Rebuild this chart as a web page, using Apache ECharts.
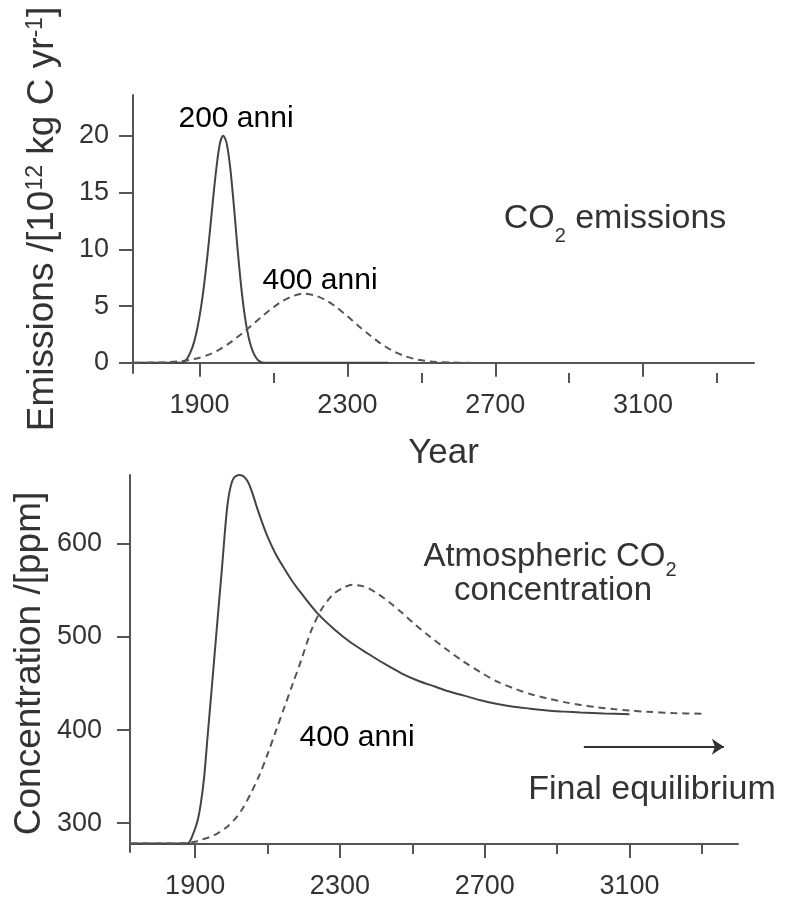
<!DOCTYPE html>
<html><head><meta charset="utf-8">
<script src="https://cdn.jsdelivr.net/npm/echarts@6/dist/echarts.min.js"></script>
<style>html,body{margin:0;padding:0;background:#fff}#c{width:791px;height:899px}</style>
</head><body><div id="c"></div>
<script>
// ---------- data ----------
const xLabelTicks = [1900, 2300, 2700, 3100];
const xMinorTicks = [2100, 2500, 2900, 3300];
const emisTicks = [0, 5, 10, 15, 20];
const concTicks = [300, 400, 500, 600];

// CO2 emissions, 200-year pulse (solid)
const emisYears200 = [1723,1840,1855,1865,1875,1885,1895,1905,1915,1925,1935,1945,1955,1964,1973,1983,1993,2003,2013,2023,2033,2043,2053,2063,2075,2410];
const emis200 =      [0,   0,   0.05,0.3, 0.9, 1.8, 3.2, 5.1, 7.6, 10.6,13.9,17.0,19.3,20,  19.4,17.2,13.8,10.0,6.6, 4.0, 2.2, 1.1, 0.45,0.12,0,   0];

// CO2 emissions, 400-year pulse (dashed)
const emisYears400 = [1723,1780,1820,1850,1875,1900,1925,1950,1975,2000,2025,2050,2075,2100,2125,2150,2180,2210,2240,2270,2300,2330,2360,2390,2420,2450,2480,2510,2540,2580,2630];
const emis400 =      [0,   0.02,0.06,0.14,0.27,0.45,0.72,1.10,1.60,2.20,2.85,3.55,4.25,4.90,5.45,5.85,6.10,5.95,5.55,4.90,4.10,3.25,2.45,1.70,1.10,0.65,0.35,0.17,0.07,0.02,0];

// Atmospheric CO2 concentration, 200-year case (solid)
const concYears200 = [1723,1800,1860,1880,1895,1907,1916,1925,1935,1945,1955,1965,1975,1982,1988,1994,2002,2010,2022,2032,2040,2048,2056,2064,2073,2087,2101,2124,2147,2170,2193,2239,2285,2330,2378,2424,2470,2516,2560,2597,2643,2689,2735,2780,2826,2873,2920,2965,3030,3100];
const conc200 =      [278, 278, 278, 278.5,289, 303, 322, 350, 396, 441, 487, 533, 578, 612, 637, 654, 667, 672, 674, 673, 670, 665, 657, 647.5,636.5,621, 607, 588, 573, 559, 547, 525, 508, 494, 482, 471, 461, 453, 447, 442, 437, 432, 428, 425, 423, 421, 419.8,418.8,417.8,417];

// Atmospheric CO2 concentration, 400-year case (dashed)
const concYears400 = [1723,1800,1870,1900,1916,1940,1962,1985,2008,2030,2054,2078,2101,2124,2147,2170,2193,2221,2248,2270,2285,2310,2336,2358,2378,2400,2424,2447,2470,2506,2550,2597,2640,2689,2735,2782,2828,2873,2920,2965,3010,3056,3100,3148,3220,3303];
const conc400 =      [278, 278, 278.5,280, 282, 285, 289, 295, 303.5,315, 332, 352, 375, 400, 425, 450, 475, 507, 529, 541, 547, 553, 556, 555, 552.5,547.5,541, 534, 526.5,514, 500, 486, 474, 462, 452, 444.5,438.5,434, 430, 427, 424.5,422.5,421, 419.7,418.3,417.5];

// "Final equilibrium" arrow (data coordinates)
const arrowFrom = [2974, 382];
const arrowTo = [3361, 382];

// ---------- chart ----------
const FONT = '"Liberation Sans", Arial, Helvetica, sans-serif';
const AX = '#555';
const TXT = '#333';
const zip = (xs, ys) => xs.map((x, i) => [x, ys[i]]);
const plain = v => String(v);

function mainX(gi, name, onZero, offset, margin) {
  return {
    type: 'value', gridIndex: gi, min: 1720, max: 3400, position: 'bottom', offset: offset,
    axisLine: { show: true, onZero: onZero, lineStyle: { color: AX, width: 2 } },
    axisTick: { show: true, customValues: xLabelTicks, length: 14, lineStyle: { color: AX, width: 2 } },
    axisLabel: { show: true, customValues: xLabelTicks, formatter: plain, fontSize: 27, color: TXT, margin: margin, fontFamily: FONT },
    splitLine: { show: false },
    name: name, nameLocation: 'middle', nameGap: 63, nameMoveOverlap: false,
    nameTextStyle: { fontSize: 35, color: TXT, fontFamily: FONT }
  };
}
function minorX(gi, onZero, offset) {
  return {
    type: 'value', gridIndex: gi, min: 1720, max: 3400, position: 'bottom', offset: offset,
    axisLine: { show: false, onZero: onZero },
    axisTick: { show: true, customValues: xMinorTicks, length: 10, lineStyle: { color: AX, width: 2 } },
    axisLabel: { show: false },
    splitLine: { show: false }
  };
}

const chart = echarts.init(document.getElementById('c'), null, { renderer: 'canvas' });
const option = {
  animation: false,
  backgroundColor: '#fff',
  textStyle: { fontFamily: FONT },
  grid: [
    { left: 133, right: 37, top: 95, height: 278, containLabel: false, outerBoundsMode: 'none' },
    { left: 130, right: 53, top: 475, height: 377, containLabel: false, outerBoundsMode: 'none' }
  ],
  xAxis: [
    mainX(0, 'Year', true, 0, 19), minorX(0, true, 0),
    mainX(1, '', false, -8, 29), minorX(1, false, -8)
  ],
  yAxis: [
    {
      type: 'value', gridIndex: 0, min: -0.9, max: 23.6,
      axisLine: { show: true, onZero: false, lineStyle: { color: AX, width: 2 } },
      axisTick: { show: true, customValues: emisTicks, length: 14, lineStyle: { color: AX, width: 2 } },
      axisLabel: { show: true, customValues: emisTicks, formatter: plain, fontSize: 27, color: TXT, margin: 24, fontFamily: FONT },
      splitLine: { show: false },
      name: '{a|Emissions /[10}{s|12}{a| kg C yr}{s|-1}{a|]}',
      nameLocation: 'middle', nameRotate: 90, nameGap: 72, nameMoveOverlap: false,
      nameTextStyle: {
        color: TXT, fontSize: 37, fontFamily: FONT, padding: [0, 0, 0, 30],
        rich: {
          a: { fontSize: 37, color: TXT, fontFamily: FONT },
          s: { fontSize: 23, color: TXT, fontFamily: FONT, verticalAlign: 'top', lineHeight: 18 }
        }
      }
    },
    {
      type: 'value', gridIndex: 1, min: 269, max: 674,
      axisLine: { show: true, onZero: false, lineStyle: { color: AX, width: 2 } },
      axisTick: { show: true, customValues: concTicks, length: 13, lineStyle: { color: AX, width: 2 } },
      axisLabel: { show: true, customValues: concTicks, formatter: plain, fontSize: 27, color: TXT, margin: 28, fontFamily: FONT },
      splitLine: { show: false },
      name: 'Concentration /[ppm]',
      nameLocation: 'middle', nameRotate: 90, nameGap: 82, nameMoveOverlap: false,
      nameTextStyle: { color: TXT, fontSize: 37, fontFamily: FONT }
    }
  ],
  series: [
    {
      type: 'line', xAxisIndex: 0, yAxisIndex: 0, data: zip(emisYears200, emis200),
      showSymbol: false, smooth: 0.3, clip: false, silent: true,
      lineStyle: { color: '#444', width: 2 }
    },
    {
      type: 'line', xAxisIndex: 0, yAxisIndex: 0, data: zip(emisYears400, emis400),
      showSymbol: false, smooth: 0.3, clip: false, silent: true,
      lineStyle: { color: '#555', width: 2, type: [7, 5] }
    },
    {
      type: 'line', xAxisIndex: 2, yAxisIndex: 1, data: zip(concYears200, conc200),
      showSymbol: false, smooth: 0.3, clip: false, silent: true,
      lineStyle: { color: '#444', width: 2 },
      markLine: {
        silent: true, symbol: ['none', 'arrow'], symbolSize: 12,
        label: { show: false },
        lineStyle: { color: '#333', width: 2, type: 'solid' },
        data: [[{ coord: arrowFrom }, { coord: arrowTo }]]
      }
    },
    {
      type: 'line', xAxisIndex: 2, yAxisIndex: 1, data: zip(concYears400, conc400),
      showSymbol: false, smooth: 0.3, clip: false, silent: true,
      lineStyle: { color: '#555', width: 2, type: [7, 5] }
    }
  ],
  graphic: [
    { type: 'text', x: 236, y: 119, silent: true,
      style: { text: '200 anni', font: '30px ' + FONT, fill: '#000', align: 'center', verticalAlign: 'middle' } },
    { type: 'text', x: 320, y: 281, silent: true,
      style: { text: '400 anni', font: '30px ' + FONT, fill: '#000', align: 'center', verticalAlign: 'middle' } },
    { type: 'text', x: 357, y: 738, silent: true,
      style: { text: '400 anni', font: '30px ' + FONT, fill: '#000', align: 'center', verticalAlign: 'middle' } },
    { type: 'text', x: 615, y: 219, silent: true,
      style: {
        text: '{a|CO}{b|2}{a| emissions}', align: 'center', verticalAlign: 'middle',
        rich: {
          a: { fontSize: 34, fontFamily: FONT, fill: TXT, lineHeight: 54 },
          b: { fontSize: 20, fontFamily: FONT, fill: TXT, verticalAlign: 'bottom' }
        }
      } },
    { type: 'text', x: 550, y: 557, silent: true,
      style: {
        text: '{a|Atmospheric CO}{b|2}', align: 'center', verticalAlign: 'middle',
        rich: {
          a: { fontSize: 33, fontFamily: FONT, fill: TXT, lineHeight: 47 },
          b: { fontSize: 20, fontFamily: FONT, fill: TXT, verticalAlign: 'bottom' }
        }
      } },
    { type: 'text', x: 553, y: 591, silent: true,
      style: { text: 'concentration', font: '33px ' + FONT, fill: TXT, align: 'center', verticalAlign: 'middle' } },
    { type: 'text', x: 652, y: 790, silent: true,
      style: { text: 'Final equilibrium', font: '34px ' + FONT, fill: TXT, align: 'center', verticalAlign: 'middle' } }
  ]
};
chart.setOption(option);
</script>
</body></html>
